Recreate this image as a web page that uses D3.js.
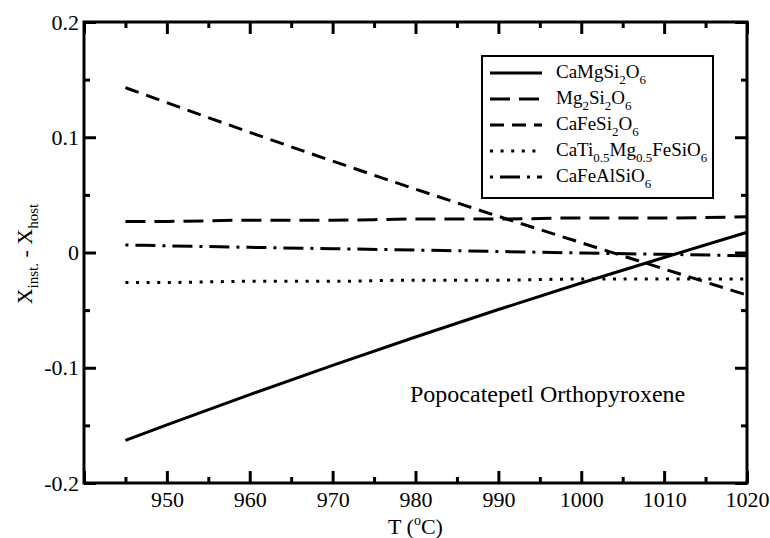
<!doctype html>
<html>
<head>
    <meta charset="utf-8">
    <title>Popocatepetl Orthopyroxene</title>
    <script src="https://d3js.org/d3.v7.min.js"></script>
    <style type="text/css">
        html, body { margin: 0; background: #fff; }
        svg text { font-family: "Liberation Serif", "Times New Roman", serif; fill: #000; }
    </style>
</head>
<body>
<svg id="chart" width="770" height="538"></svg>
<script type="text/javascript">
    var temps = [945, 950, 960, 970, 980, 990, 1000, 1010, 1020];

    var caMgSi2O6   = [-0.163, -0.1495, -0.1233, -0.0979, -0.0733, -0.0495, -0.0265, -0.0043, 0.0175];
    var mg2Si2O6    = [0.027, 0.027, 0.028, 0.028, 0.029, 0.029, 0.030, 0.030, 0.031];
    var caFeSi2O6   = [0.143, 0.130, 0.1043, 0.0793, 0.055, 0.0314, 0.0085, -0.0143, -0.037];
    var caTiMgFe    = [-0.026, -0.026, -0.025, -0.025, -0.024, -0.024, -0.023, -0.023, -0.023];
    var caFeAlSiO6  = [0.0065, 0.0058, 0.0045, 0.0033, 0.0021, 0.0009, -0.0004, -0.0016, -0.0028];

    var xMajor = [940, 950, 960, 970, 980, 990, 1000, 1010, 1020];
    var xMinor = [945, 955, 965, 975, 985, 995, 1005, 1015];
    var xLabels = ["", "950", "960", "970", "980", "990", "1000", "1010", "1020"];
    var yMajor = [-0.2, -0.1, 0, 0.1, 0.2];
    var yMinor = [-0.15, -0.05, 0.05, 0.15];
    var yLabels = ["-0.2", "-0.1", "0", "0.1", "0.2"];

    // name parts alternate normal (0) / subscript (1)
    var seriesList = [
        { values: caMgSi2O6,  dash: null,         parts: [["CaMgSi", 0], ["2", 1], ["O", 0], ["6", 1]] },
        { values: mg2Si2O6,   dash: "20,9",       parts: [["Mg", 0], ["2", 1], ["Si", 0], ["2", 1], ["O", 0], ["6", 1]] },
        { values: caFeSi2O6,  dash: "14,8",       parts: [["CaFeSi", 0], ["2", 1], ["O", 0], ["6", 1]] },
        { values: caTiMgFe,   dash: "3,7.6",      parts: [["CaTi", 0], ["0.5", 1], ["Mg", 0], ["0.5", 1], ["FeSiO", 0], ["6", 1]] },
        { values: caFeAlSiO6, dash: "3,7,20,7",   parts: [["CaFeAlSiO", 0], ["6", 1]] }
    ];

    var svg = d3.select("#chart");
    var mLeft = 84, mRight = 747, mTop = 22, mBottom = 483;

    var x = d3.scaleLinear().domain([940, 1020]).range([mLeft, mRight]);
    var y = d3.scaleLinear().domain([-0.2, 0.2]).range([mBottom, mTop]);

    function styleAxis(g) {
        g.select(".domain").remove();
        g.selectAll("line").attr("stroke", "#000").attr("stroke-width", 3);
        g.selectAll("text").attr("font-size", 22).attr("fill", "#000")
            .attr("font-family", "Liberation Serif, serif");
    }

    // bottom
    svg.append("g").attr("transform", "translate(0," + mBottom + ")")
        .call(d3.axisBottom(x).tickValues(xMajor).tickSize(-12).tickPadding(8)
            .tickFormat(function(d, i) { return xLabels[i]; }))
        .call(styleAxis);
    svg.append("g").attr("transform", "translate(0," + mBottom + ")")
        .call(d3.axisBottom(x).tickValues(xMinor).tickSize(-6).tickFormat(""))
        .call(styleAxis);
    // top
    svg.append("g").attr("transform", "translate(0," + mTop + ")")
        .call(d3.axisTop(x).tickValues(xMajor).tickSize(-12).tickFormat(""))
        .call(styleAxis);
    svg.append("g").attr("transform", "translate(0," + mTop + ")")
        .call(d3.axisTop(x).tickValues(xMinor).tickSize(-6).tickFormat(""))
        .call(styleAxis);
    // left
    svg.append("g").attr("transform", "translate(" + mLeft + ",0)")
        .call(d3.axisLeft(y).tickValues(yMajor).tickSize(-12).tickPadding(5)
            .tickFormat(function(d, i) { return yLabels[i]; }))
        .call(styleAxis);
    svg.append("g").attr("transform", "translate(" + mLeft + ",0)")
        .call(d3.axisLeft(y).tickValues(yMinor).tickSize(-6).tickFormat(""))
        .call(styleAxis);
    // right
    svg.append("g").attr("transform", "translate(" + mRight + ",0)")
        .call(d3.axisRight(y).tickValues(yMajor).tickSize(-12).tickFormat(""))
        .call(styleAxis);
    svg.append("g").attr("transform", "translate(" + mRight + ",0)")
        .call(d3.axisRight(y).tickValues(yMinor).tickSize(-6).tickFormat(""))
        .call(styleAxis);

    // frame
    svg.append("rect")
        .attr("x", mLeft).attr("y", mTop)
        .attr("width", mRight - mLeft).attr("height", mBottom - mTop)
        .attr("fill", "none").attr("stroke", "#000").attr("stroke-width", 3);

    var line = d3.line()
        .x(function(d, i) { return x(temps[i]); })
        .y(function(d) { return y(d); })
        .curve(d3.curveMonotoneX);

    seriesList.forEach(function(s) {
        svg.append("path")
            .attr("d", line(s.values))
            .attr("fill", "none")
            .attr("stroke", "#000")
            .attr("stroke-width", 3)
            .attr("stroke-dasharray", s.dash);
    });

    // legend
    var lg = svg.append("g");
    lg.append("rect")
        .attr("x", 482).attr("y", 56).attr("width", 231).attr("height", 142)
        .attr("fill", "#fff").attr("stroke", "#000").attr("stroke-width", 2);

    function addSubText(g, parts, size, subSize, shift) {
        var down = false;
        parts.forEach(function(p) {
            var t = g.append("tspan").text(p[0]);
            if (p[1]) {
                t.attr("font-size", subSize).attr("dy", down ? 0 : shift);
                down = true;
            } else {
                t.attr("font-size", size).attr("dy", down ? -shift : 0);
                down = false;
            }
        });
    }

    seriesList.forEach(function(s, i) {
        var ly = 73 + i * 26;
        lg.append("line")
            .attr("x1", 490).attr("x2", 542).attr("y1", ly).attr("y2", ly)
            .attr("stroke", "#000").attr("stroke-width", 3)
            .attr("stroke-dasharray", s.dash);
        var t = lg.append("text").attr("x", 556).attr("y", ly + 5).attr("font-size", 19);
        addSubText(t, s.parts, 19, 13, 6);
    });

    // annotation
    svg.append("text")
        .attr("x", 410).attr("y", 402)
        .attr("font-size", 24)
        .text("Popocatepetl Orthopyroxene");

    // axis titles
    var xt = svg.append("text")
        .attr("x", (mLeft + mRight) / 2).attr("y", 534)
        .attr("text-anchor", "middle").attr("font-size", 22);
    xt.append("tspan").text("T (");
    xt.append("tspan").attr("dy", -9).attr("font-size", 14).text("o");
    xt.append("tspan").attr("dy", 9).text("C)");

    var yt = svg.append("text")
        .attr("transform", "translate(32,254) rotate(-90)")
        .attr("text-anchor", "middle").attr("font-size", 22);
    addSubText(yt, [["X", 0], ["inst.", 1], [" - X", 0], ["host", 1]], 22, 15, 6);
</script>
</body>
</html>
